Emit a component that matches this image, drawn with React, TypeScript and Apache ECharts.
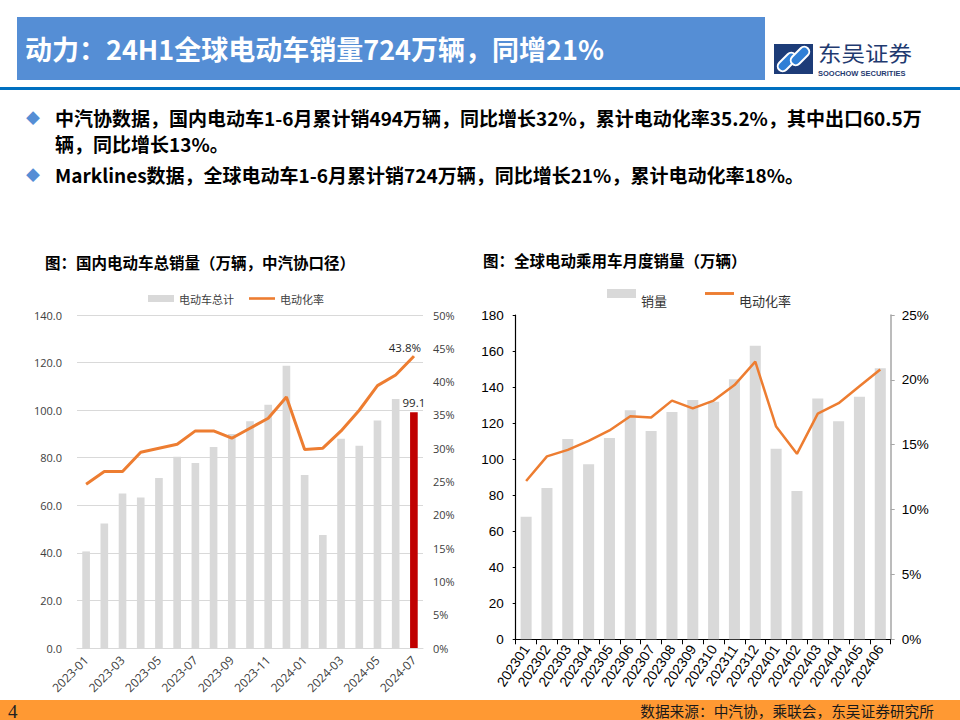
import React, { useEffect, useRef } from "react";
import * as echarts from "echarts";

const CJK = '"Noto Sans CJK SC", "Noto Sans", sans-serif';
const LAT = '"Open Sans", "Noto Sans CJK SC", sans-serif';
const ARIAL = '"Liberation Sans", Arial, sans-serif';

const headerTitle = "动力：24H1全球电动车销量724万辆，同增21%";
const bulletLines = [
  "中汽协数据，国内电动车1-6月累计销494万辆，同比增长32%，累计电动化率35.2%，其中出口60.5万",
  "辆，同比增长13%。",
  "Marklines数据，全球电动车1-6月累计销724万辆，同比增长21%，累计电动化率18%。",
];
const leftTitle = "图：国内电动车总销量（万辆，中汽协口径）";
const rightTitle = "图：全球电动乘用车月度销量（万辆）";
const sourceText = "数据来源：中汽协，乘联会，东吴证券研究所";
const pageNumber = "4";
const logoCn = "东吴证券";
const logoEn = "SOOCHOW SECURITIES";

const domesticMonths = [
  "2023-01", "2023-02", "2023-03", "2023-04", "2023-05", "2023-06", "2023-07",
  "2023-08", "2023-09", "2023-10", "2023-11", "2023-12", "2024-01", "2024-02",
  "2024-03", "2024-04", "2024-05", "2024-06", "2024-07",
];
const domesticSales = [
  40.6, 52.3, 65.0, 63.3, 71.5, 80.4, 77.8, 84.5, 90.0, 95.3, 102.3, 118.7,
  72.7, 47.5, 88.0, 85.0, 95.6, 104.7, 99.1,
];
const domesticRate = [
  24.6, 26.5, 26.5, 29.4, 30.0, 30.6, 32.6, 32.6, 31.5, 33.0, 34.5, 37.7,
  29.8, 30.0, 32.6, 35.7, 39.4, 41.0, 43.8,
];

const globalMonths = [
  "202301", "202302", "202303", "202304", "202305", "202306", "202307", "202308",
  "202309", "202310", "202311", "202312", "202401", "202402", "202403", "202404",
  "202405", "202406",
];
const globalSales = [
  68.0, 84.0, 111.2, 97.1, 111.7, 127.2, 115.6, 126.1, 132.8, 131.9, 144.3, 163.0,
  105.8, 82.3, 133.7, 121.0, 134.6, 150.4,
];
const globalRate = [
  12.2, 14.1, 14.6, 15.3, 16.1, 17.2, 17.1, 18.4, 17.8, 18.4, 19.6, 21.4,
  16.4, 14.3, 17.4, 18.2, 19.5, 20.8,
];

const LINE_ICON = "path://M0,0L40,0L40,4L0,4Z";

function txt(x: number, y: number, text: string, font: string, fill: string, align = "left", extra: any = {}, el: any = {}) {
  return {
    type: "text",
    x,
    y,
    silent: true,
    ...el,
    style: {
      text,
      font,
      fill,
      align,
      textAlign: align,
      verticalAlign: "middle",
      textVerticalAlign: "middle",
      ...extra,
    },
  };
}

function buildOption() {
  const lastD = domesticSales.length - 1;
  const lastR = domesticRate.length - 1;

  const graphicEls: any[] = [
    { type: "rect", silent: true, shape: { x: 17, y: 17, width: 748, height: 63 }, style: { fill: "#558ED5" } },
    txt(25, 48, headerTitle, `bold 27px ${CJK}`, "#ffffff"),
    { type: "rect", silent: true, shape: { x: 0, y: 87, width: 960, height: 3 }, style: { fill: "#0070C0" } },
    // logo
    { type: "rect", silent: true, shape: { x: 774, y: 44, width: 39, height: 30 }, style: { fill: "#1D3C78" } },
    {
      type: "rect", silent: true, x: 787, y: 62, rotation: Math.PI / 4,
      shape: { x: -11, y: -5, width: 22, height: 10, r: 5 },
      style: { fill: "#2F7FD6", stroke: "#ffffff", lineWidth: 2 },
    },
    {
      type: "rect", silent: true, x: 800, y: 56, rotation: Math.PI / 4,
      shape: { x: -11, y: -5, width: 22, height: 10, r: 5 },
      style: { fill: "#2F7FD6", stroke: "#ffffff", lineWidth: 2 },
    },
    txt(818, 52, logoCn, `21px ${CJK}`, "#1F3A70", "left", {}, { scaleX: 1.12 }),
    txt(818, 73.5, logoEn, `bold 7.5px ${ARIAL}`, "#1F3A70"),
    // bullets
    txt(26, 117, "◆", `14px ${CJK}`, "#558ED5"),
    txt(55, 130, `${bulletLines[0]}\n${bulletLines[1]}`, `bold 19px ${CJK}`, "#000000", "left", { lineHeight: 26 }),
    txt(26, 174, "◆", `14px ${CJK}`, "#558ED5"),
    txt(55, 174, bulletLines[2], `bold 19px ${CJK}`, "#000000"),
    // chart titles
    txt(45, 262, leftTitle, `bold 15.5px ${CJK}`, "#000000"),
    txt(483, 260, rightTitle, `bold 15.5px ${CJK}`, "#000000"),
    // footer
    { type: "rect", silent: true, shape: { x: 0, y: 700, width: 960, height: 20 }, style: { fill: "#FF9933" } },
    txt(8, 711, pageNumber, `19px "Liberation Serif", "DejaVu Serif", serif`, "#222222"),
    txt(934, 710, sourceText, `14.7px ${CJK}`, "#1a1a1a", "right"),
  ];

  return {
    animation: false,
    backgroundColor: "#ffffff",
    textStyle: { fontFamily: LAT },
    legend: [
      {
        left: 148,
        top: 293,
        padding: 0,
        itemWidth: 26,
        itemHeight: 7,
        itemGap: 15,
        textStyle: { fontSize: 11, color: "#404040", fontFamily: CJK },
        data: [
          { name: "电动车总计", icon: "rect" },
          { name: "电动化率", icon: LINE_ICON },
        ],
      },
      {
        left: 607,
        top: 289,
        padding: 0,
        itemWidth: 29,
        itemHeight: 9,
        itemGap: 38,
        formatter: (name: string) => `{t|${name}}`,
        textStyle: {
          fontSize: 13,
          color: "#333333",
          fontFamily: CJK,
          rich: { t: { fontSize: 13, color: "#333333", fontFamily: CJK, padding: [13, 0, 0, 0] } },
        },
        data: [
          { name: "销量", icon: "rect" },
          { name: "电动化率", icon: LINE_ICON },
        ],
      },
    ],
    grid: [
      { left: 77, top: 315, width: 346, height: 333 },
      { left: 515.7, top: 315, width: 375, height: 324.3 },
    ],
    xAxis: [
      {
        gridIndex: 0,
        type: "category",
        data: domesticMonths,
        axisLine: { lineStyle: { color: "#D9D9D9" } },
        axisTick: { show: false },
        axisLabel: { rotate: 45, interval: 1, fontSize: 12, color: "#404040", margin: 10, fontFamily: LAT },
      },
      {
        gridIndex: 1,
        type: "category",
        data: globalMonths,
        axisLine: { lineStyle: { color: "#000000", width: 1.2 } },
        axisTick: { show: true, length: 5, lineStyle: { color: "#000000" } },
        axisLabel: { rotate: 56, interval: 0, fontSize: 14, color: "#000000", margin: 7, fontFamily: ARIAL },
      },
    ],
    yAxis: [
      {
        gridIndex: 0,
        type: "value",
        min: 0,
        max: 140,
        interval: 20,
        axisLine: { show: false },
        axisTick: { show: false },
        splitLine: { lineStyle: { color: "#D9D9D9" } },
        axisLabel: { formatter: (v: number) => v.toFixed(1), fontSize: 11, color: "#404040", margin: 15, fontFamily: LAT },
      },
      {
        gridIndex: 0,
        type: "value",
        position: "right",
        min: 0,
        max: 50,
        interval: 5,
        axisLine: { show: false },
        axisTick: { show: false },
        splitLine: { show: false },
        axisLabel: { formatter: "{value}%", fontSize: 11, color: "#404040", margin: 10, fontFamily: LAT },
      },
      {
        gridIndex: 1,
        type: "value",
        min: 0,
        max: 180,
        interval: 20,
        axisLine: { show: true, lineStyle: { color: "#000000", width: 1.2 } },
        axisTick: { show: true, length: 3, lineStyle: { color: "#000000" } },
        splitLine: { show: false },
        axisLabel: { fontSize: 13.5, color: "#000000", margin: 12, fontFamily: ARIAL },
      },
      {
        gridIndex: 1,
        type: "value",
        position: "right",
        min: 0,
        max: 25,
        interval: 5,
        axisLine: { show: true, lineStyle: { color: "#A6A6A6", width: 1.5 } },
        axisTick: { show: true, length: 4, lineStyle: { color: "#A6A6A6" } },
        splitLine: { show: false },
        axisLabel: { formatter: "{value}%", fontSize: 13.5, color: "#000000", margin: 11, fontFamily: ARIAL },
      },
    ],
    series: [
      {
        name: "电动车总计",
        type: "bar",
        xAxisIndex: 0,
        yAxisIndex: 0,
        barWidth: "42%",
        itemStyle: { color: "#D9D9D9" },
        data: domesticSales.map((v, i) =>
          i === lastD
            ? {
                value: v,
                itemStyle: { color: "#C00000" },
                label: { show: true, position: "top", distance: 4, fontSize: 11.5, color: "#262626", fontFamily: LAT },
              }
            : v
        ),
      },
      {
        name: "电动化率",
        type: "line",
        xAxisIndex: 0,
        yAxisIndex: 1,
        symbol: "none",
        lineStyle: { color: "#ED7D31", width: 3 },
        itemStyle: { color: "#ED7D31" },
        data: domesticRate.map((v, i) =>
          i === lastR
            ? {
                value: v,
                symbol: "circle",
                symbolSize: 1,
                label: {
                  show: true,
                  position: "top",
                  distance: 3,
                  offset: [-9, 0],
                  formatter: (p: any) => `${p.value}%`,
                  fontSize: 11.5,
                  color: "#262626",
                  fontFamily: LAT,
                },
              }
            : v
        ),
      },
      {
        name: "销量",
        type: "bar",
        xAxisIndex: 1,
        yAxisIndex: 2,
        barWidth: "53%",
        itemStyle: { color: "#D9D9D9" },
        data: globalSales,
      },
      {
        name: "电动化率",
        type: "line",
        xAxisIndex: 1,
        yAxisIndex: 3,
        symbol: "none",
        lineStyle: { color: "#ED7D31", width: 2.5 },
        itemStyle: { color: "#ED7D31" },
        data: globalRate,
      },
    ],
    graphic: { elements: graphicEls },
  };
}

export default function App() {
  const ref = useRef<HTMLDivElement>(null);
  useEffect(() => {
    if (!ref.current) return;
    const chart = echarts.init(ref.current, null, { renderer: "svg" });
    chart.setOption(buildOption() as any);
    return () => chart.dispose();
  }, []);
  return (
    <div
      ref={ref}
      style={{ position: "absolute", left: 0, top: 0, width: 960, height: 720, background: "#ffffff" }}
    />
  );
}
